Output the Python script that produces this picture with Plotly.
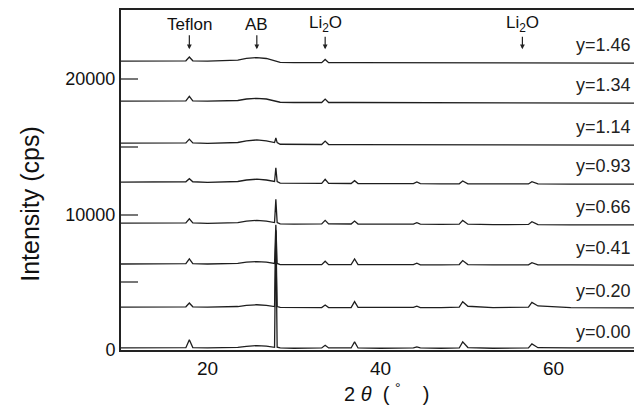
import plotly.graph_objects as go

# 2-theta grid (degrees) shared by all patterns
two_theta = [10, 13, 16, 17.5, 17.9, 18.3, 20, 22, 23.5, 24.5, 25.7, 26.8, 27.5, 27.75, 27.9, 28.05,
             28.4, 30, 33.2, 33.6, 34.0, 36.6, 37.0, 37.4, 40, 43.8, 44.2, 44.6, 47, 49.1, 49.5, 50.1,
             53, 57.1, 57.5, 58.2, 62, 66, 70]

sample_labels = ["y=0.00", "y=0.20", "y=0.41", "y=0.66", "y=0.93", "y=1.14", "y=1.34", "y=1.46"]
# vertical stacking offsets (cps)
offsets = [150, 3170, 6350, 9370, 12400, 15270, 18370, 21330]

# relative intensities (cps)
i_000 = [0, 0, 0, 20, 600, 30, 0, 10, 40, 120, 180, 130, 60, 50, 8700, 60, 0, -20, 0, 200, 0, 0, 450, 0,
         -20, 0, 80, 0, -20, 0, 450, 30, -20, 0, 300, 20, 0, 0, 0]
i_020 = [0, 0, 0, 20, 300, 20, 0, 0, 40, 120, 170, 130, 50, 40, 5600, 40, -30, -40, -40, 150, -40, -40, 400,
         -20, -40, -30, 60, -40, -40, 0, 400, 60, -40, 0, 350, 80, -40, -60, -60]
i_041 = [0, 0, 0, 20, 380, 20, 0, 0, 40, 130, 180, 130, 50, 40, 2900, 40, -40, -60, -50, 200, -50, -50, 370,
         -50, -60, -50, 60, -60, -60, -40, 250, -40, -60, -60, 100, -60, -70, -80, -80]
i_066 = [0, 0, 0, 20, 320, 20, -20, 0, 40, 140, 200, 140, 50, 40, 1750, 40, -60, -80, -60, 200, -60, -70, 150,
         -70, -80, -80, 30, -80, -100, -80, 200, -80, -120, -100, 100, -120, -130, -140, -140]
i_093 = [0, 0, 0, 20, 250, 20, -20, 0, 40, 150, 210, 150, 50, 40, 1050, 40, -80, -100, -100, 200, -100, -110,
         100, -110, -120, -120, 0, -120, -130, -130, 80, -130, -140, -140, 30, -140, -150, -150, -150]
i_114 = [0, 0, 0, 20, 300, 20, -20, 0, 50, 170, 240, 170, 60, 40, 380, 40, -80, -100, -100, 150, -100, -110,
         -110, -110, -120, -120, -120, -130, -130, -130, -130, -130, -140, -140, -140, -140, -150, -150, -150]
i_134 = [0, 0, 0, 20, 350, 20, 0, 0, 50, 160, 210, 160, 50, 20, 0, -20, -80, -100, -100, 150, -100, -100,
         -100, -100, -100, -100, -100, -100, -120, -120, -120, -120, -130, -130, -130, -130, -140, -140, -140]
i_146 = [0, 0, 0, 20, 300, 20, 0, 20, 70, 200, 260, 190, 60, 20, 0, -30, -100, -120, -120, 120, -120, -120,
         -120, -120, -120, -130, -130, -130, -130, -130, -130, -130, -140, -140, -140, -140, -150, -150, -150]
patterns = [i_000, i_020, i_041, i_066, i_093, i_114, i_134, i_146]

# phase markers
marker_names = ["Teflon", "AB", "Li<sub>2</sub>O", "Li<sub>2</sub>O"]
marker_pos = [17.9, 25.7, 33.6, 56.4]
marker_tip = 22200

y_tickvals = [0, 5000, 10000, 15000, 20000]
y_ticktext = ["0", "", "10000", "", "20000"]
x_tickvals = [20, 40, 60]

x_title = "2 <i>θ</i>\u00a0\u00a0( <sup>°</sup>\u00a0\u00a0\u00a0\u00a0)"
y_title = "Intensity (cps)"

FONT = "Liberation Sans, Arial, Helvetica, sans-serif"

fig = go.Figure()
for lab, off, pat in zip(sample_labels, offsets, patterns):
    fig.add_trace(go.Scatter(
        x=two_theta, y=[off + v for v in pat], mode="lines",
        line=dict(color="#1e1e1e", width=1.3), name=lab, showlegend=False,
        hoverinfo="skip"))

annotations = []
for lab, off in zip(sample_labels, offsets):
    annotations.append(dict(x=1.0, y=off, xref="paper", yref="y", text=lab, showarrow=False,
                            xanchor="right", yanchor="middle", yshift=16, xshift=-1,
                            font=dict(family=FONT, size=18, color="#222")))
for name, pos in zip(marker_names, marker_pos):
    annotations.append(dict(x=pos, y=marker_tip, xref="x", yref="y", text=name, showarrow=True,
                            ax=0, ay=-25, arrowhead=2, arrowsize=0.8, arrowwidth=1.2,
                            arrowcolor="#222", font=dict(family=FONT, size=17, color="#111")))
# axis titles
annotations.append(dict(x=0, y=0.43, xref="paper", yref="paper", text=y_title, showarrow=False,
                        textangle=-90, xanchor="center", yanchor="middle", xshift=-91,
                        font=dict(family=FONT, size=25, color="#111")))
annotations.append(dict(x=0.5, y=0, xref="paper", yref="paper", text=x_title, showarrow=False,
                        xanchor="center", yanchor="middle", xshift=9, yshift=-42,
                        font=dict(family=FONT, size=20, color="#111")))

fig.update_layout(
    width=634, height=409,
    margin=dict(l=121, r=0, t=10, b=59),
    paper_bgcolor="white", plot_bgcolor="white",
    font=dict(family=FONT, size=18, color="#111"),
    annotations=annotations,
    xaxis=dict(range=[10, 69.3], tickvals=x_tickvals, ticks="", showgrid=False, zeroline=False,
               showline=True, linecolor="#222", linewidth=2, mirror=True,
               tickfont=dict(size=19)),
    yaxis=dict(range=[0, 25100], tickvals=y_tickvals, ticktext=y_ticktext, ticks="inside",
               ticklen=17, tickwidth=2, tickcolor="#777", showgrid=False, zeroline=False,
               showline=True, linecolor="#222", linewidth=2, mirror=False,
               tickfont=dict(size=18)),
)

fig.write_html("out.html")
